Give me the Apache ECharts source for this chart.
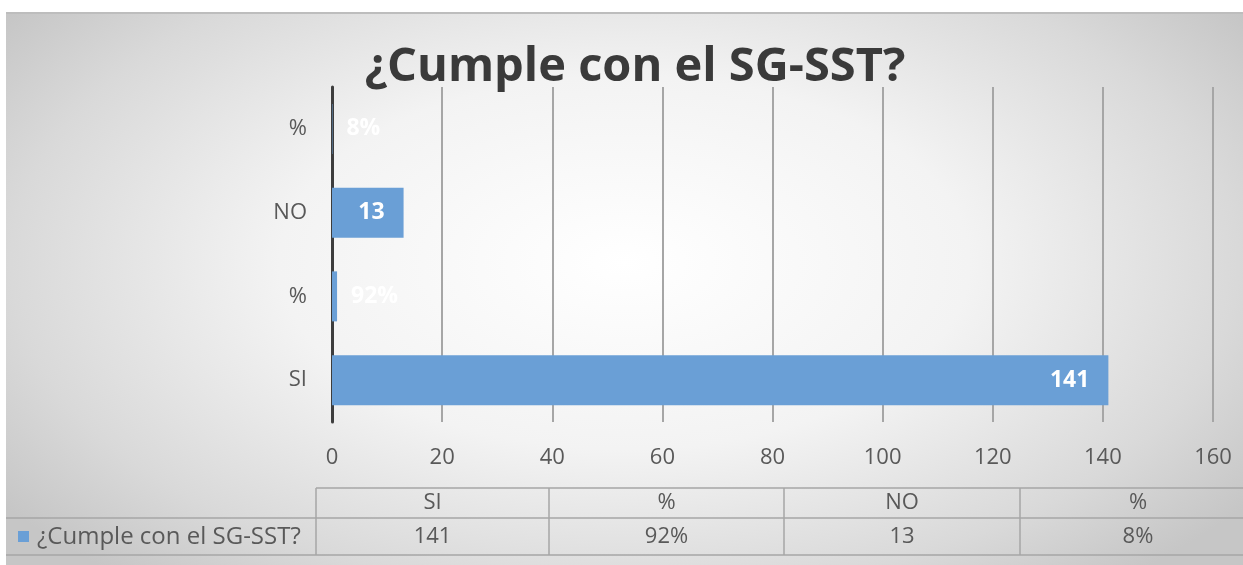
<!DOCTYPE html>
<html>
<head>
<meta charset="utf-8">
<script src="https://cdn.jsdelivr.net/npm/echarts@6/dist/echarts.min.js"></script>
<style>
  html, body { margin: 0; padding: 0; background: #fff; }
  #frame {
    position: absolute; left: 6px; top: 12px; width: 1237px; height: 553px;
    border-top: 2px solid #bdbdbd;
    background: radial-gradient(ellipse 62% 75% at 50% 45%, #ffffff 0%, #f3f3f3 45%, #d9d9d9 80%, #c6c6c6 100%);
  }
  #chart { position: absolute; left: 0; top: 0; width: 1243px; height: 565px; }
</style>
</head>
<body>
<div id="frame"></div>
<div id="chart"></div>
<script>
// data
var categories = ['SI', '%', 'NO', '%']
var values = [141, 0.92, 13, 0.08]
var valueLabels = ['141', '92%', '13', '8%']
var seriesName = '¿Cumple con el SG-SST?'
var xTicks = { min: 0, max: 160, interval: 20 }

var font = 'Open Sans'
var textGray = '#595959'
var lineGray = '#a6a6a6'
var barColor = '#6a9fd6'

// data table under the chart, built from the arrays above
var colEdges = [316, 549, 784, 1020, 1256]
var tableFont = '22px "' + font + '"'
var tableEls = [
  { type: 'line', shape: { x1: 316, y1: 488, x2: 1243, y2: 488 }, style: { stroke: lineGray, lineWidth: 1.5 } },
  { type: 'line', shape: { x1: 6, y1: 518, x2: 1243, y2: 518 }, style: { stroke: lineGray, lineWidth: 1.5 } },
  { type: 'line', shape: { x1: 6, y1: 555, x2: 1243, y2: 555 }, style: { stroke: lineGray, lineWidth: 1.5 } },
  { type: 'rect', shape: { x: 18, y: 531, width: 11, height: 11 }, style: { fill: barColor } },
  {
    type: 'text', x: 37, y: 537,
    style: { text: seriesName, font: '24px "' + font + '"', fill: textGray, verticalAlign: 'middle' }
  }
]
for (var i = 0; i < 4; i++) {
  tableEls.push({ type: 'line', shape: { x1: colEdges[i], y1: 488, x2: colEdges[i], y2: 555 }, style: { stroke: lineGray, lineWidth: 1.5 } })
  var cx = (colEdges[i] + colEdges[i + 1]) / 2
  tableEls.push({
    type: 'text', x: cx, y: 503,
    style: { text: categories[i], font: tableFont, fill: textGray, align: 'center', verticalAlign: 'middle' }
  })
  tableEls.push({
    type: 'text', x: cx, y: 537,
    style: { text: valueLabels[i], font: tableFont, fill: textGray, align: 'center', verticalAlign: 'middle' }
  })
}

var chart = echarts.init(document.getElementById('chart'))
chart.setOption({
  backgroundColor: 'transparent',
  animation: false,
  textStyle: { fontFamily: font },
  title: {
    text: seriesName,
    left: 630,
    top: 39,
    textAlign: 'center',
    textStyle: { fontSize: 47, fontWeight: 'bold', color: '#3a3a3a', fontFamily: font }
  },
  grid: { left: 332, right: 30, top: 87, bottom: 143 },
  xAxis: {
    type: 'value',
    min: xTicks.min,
    max: xTicks.max,
    interval: xTicks.interval,
    axisLine: { show: false },
    axisTick: { show: false },
    axisLabel: { fontSize: 22, color: textGray, margin: 25 },
    splitLine: { lineStyle: { color: lineGray, width: 2 } }
  },
  yAxis: {
    type: 'category',
    data: categories,
    axisLine: { lineStyle: { color: '#3d3d3d', width: 3 } },
    axisTick: { show: false },
    axisLabel: { fontSize: 22, color: textGray, margin: 25 }
  },
  series: [{
    name: seriesName,
    type: 'bar',
    barWidth: 50,
    itemStyle: { color: barColor },
    data: values.map(function (v, i) {
      var small = v < 5
      return {
        value: v,
        label: {
          show: true,
          position: small ? 'right' : 'insideRight',
          distance: small ? 14 : 19,
          formatter: valueLabels[i],
          color: '#ffffff',
          fontSize: 23,
          fontWeight: 'bold'
        }
      }
    })
  }],
  graphic: tableEls
})
</script>
</body>
</html>
